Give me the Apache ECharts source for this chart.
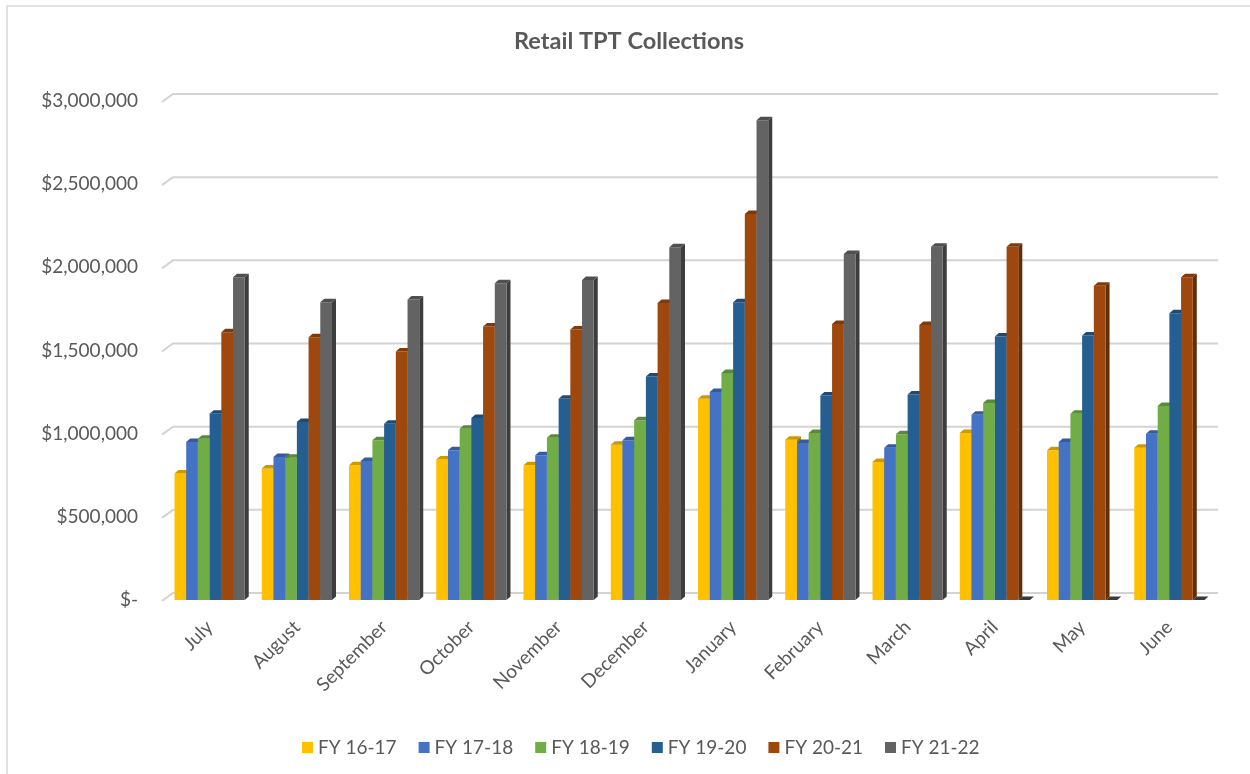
<!DOCTYPE html>
<html>
<head>
<meta charset="utf-8">
<title>Retail TPT Collections</title>
<script src="https://cdn.jsdelivr.net/npm/echarts@6/dist/echarts.min.js"></script>
<style>
  html, body { margin: 0; padding: 0; background: #ffffff; }
  #chart { width: 1250px; height: 774px; }
</style>
</head>
<body>
<div id="chart"></div>
<script>
// Months of the fiscal year (July through June)
const months = ['July', 'August', 'September', 'October', 'November', 'December',
                'January', 'February', 'March', 'April', 'May', 'June'];

// Monthly retail TPT collections per fiscal year
const fy1617 = [760000, 790000, 810000, 845000, 810000, 934000, 1210000, 964000, 830000, 1004000, 900000, 916000];
const fy1718 = [950000, 860000, 836000, 900000, 870000, 960000, 1250000, 944000, 916000, 1114000, 950000, 1000000];
const fy1819 = [970000, 855000, 960000, 1030000, 976000, 1080000, 1364000, 1004000, 996000, 1184000, 1120000, 1166000];
const fy1920 = [1120000, 1070000, 1060000, 1094000, 1210000, 1344000, 1790000, 1230000, 1236000, 1584000, 1590000, 1724000];
const fy2021 = [1610000, 1580000, 1494000, 1644000, 1626000, 1786000, 2320000, 1660000, 1654000, 2124000, 1890000, 1940000];
const fy2122 = [1940000, 1790000, 1806000, 1904000, 1924000, 2120000, 2884000, 2080000, 2124000, 0, 0, 0];

const seriesNames = ['FY 16-17', 'FY 17-18', 'FY 18-19', 'FY 19-20', 'FY 20-21', 'FY 21-22'];
const seriesValues = [fy1617, fy1718, fy1819, fy1920, fy2021, fy2122];
const seriesColors = ['#FFC000', '#4472C4', '#70AD47', '#255E91', '#9E480E', '#636363'];

// Value axis ticks
const yTicks = [0, 500000, 1000000, 1500000, 2000000, 2500000, 3000000];

const FONT = 'Lato, "Open Sans", sans-serif';
const TEXT = '#595959';
const DEPTH_X = 4, DEPTH_Y = 3.5;

function shade(hex, f) {
  const n = parseInt(hex.slice(1), 16);
  const r = Math.round(((n >> 16) & 255) * f);
  const g = Math.round(((n >> 8) & 255) * f);
  const b = Math.round((n & 255) * f);
  return 'rgb(' + r + ',' + g + ',' + b + ')';
}

function moneyLabel(v) {
  if (v === 0) return '$-';
  return '$' + v.toLocaleString('en-US');
}

// Column with a top and right face to give a 3-D look
function makeColumnRenderer(idx, color) {
  const topColor = shade(color, 0.8);
  const sideColor = shade(color, 0.62);
  return function (params, api) {
    const cat = api.value(0);
    const val = api.value(1);
    const base = api.coord([cat, 0]);
    const top = api.coord([cat, val]);
    const band = api.size([1, 0])[0];
    const barW = band * 0.805 / 6;
    const x = base[0] - barW * 3 + idx * barW;
    const ty = top[1], by = base[1];
    return {
      type: 'group',
      children: [
        {
          type: 'polygon',
          shape: { points: [[x + barW, ty], [x + barW + DEPTH_X, ty - DEPTH_Y],
                            [x + barW + DEPTH_X, by - DEPTH_Y], [x + barW, by]] },
          style: { fill: sideColor }
        },
        {
          type: 'rect',
          shape: { x: x, y: ty, width: barW, height: by - ty },
          style: { fill: color }
        },
        {
          type: 'polygon',
          shape: { points: [[x, ty], [x + DEPTH_X, ty - DEPTH_Y],
                            [x + barW + DEPTH_X, ty - DEPTH_Y], [x + barW, ty]] },
          style: { fill: idx === 5 && val === 0 ? shade(color, 0.6) : topColor }
        }
      ]
    };
  };
}

// Back-wall gridlines with a short slanted floor edge on the left
function renderGridline(params, api) {
  const y = api.coord([0, api.value(1)])[1];
  const cs = params.coordSys;
  const x0 = cs.x, x1 = cs.x + cs.width;
  return {
    type: 'polyline',
    shape: { points: [[x0 - 4, y + 1], [x0 + 7, y - 7], [x1 + 5, y - 7]] },
    style: { stroke: '#d3d3d3', lineWidth: 2, fill: null }
  };
}

const chart = echarts.init(document.getElementById('chart'), null, { renderer: 'canvas' });

const series = [{
  name: 'grid',
  type: 'custom',
  renderItem: renderGridline,
  data: yTicks.map(v => [0, v]),
  silent: true,
  z: 1
}];

seriesNames.forEach((name, i) => {
  series.push({
    name: name,
    type: 'custom',
    renderItem: makeColumnRenderer(i, seriesColors[i]),
    itemStyle: { color: seriesColors[i] },
    data: seriesValues[i].map((v, k) => [k, v]),
    encode: { x: 0, y: 1 },
    silent: true,
    z: 2
  });
});

chart.setOption({
  animation: false,
  backgroundColor: '#ffffff',
  textStyle: { fontFamily: FONT },
  title: {
    text: 'Retail TPT Collections',
    left: 514,
    top: 29,
    padding: 0,
    textStyle: { fontFamily: FONT, fontSize: 23.5, fontWeight: 'bold', color: TEXT }
  },
  legend: {
    data: seriesNames,
    left: 297,
    top: 733,
    icon: 'rect',
    itemWidth: 11,
    itemHeight: 11,
    itemGap: 22,
    selectedMode: false,
    textStyle: { fontFamily: FONT, fontSize: 19, color: TEXT }
  },
  grid: { left: 166, right: 37, top: 101, bottom: 174, containLabel: false },
  xAxis: {
    type: 'category',
    data: months,
    axisLine: { show: false },
    axisTick: { show: false },
    splitLine: { show: false },
    axisLabel: {
      rotate: 45,
      margin: 24,
      interval: 0,
      fontFamily: FONT,
      fontSize: 19,
      color: TEXT
    }
  },
  yAxis: {
    type: 'value',
    min: 0,
    max: 3000000,
    interval: 500000,
    axisLine: { show: false },
    axisTick: { show: false },
    splitLine: { show: false },
    axisLabel: {
      margin: 28,
      fontFamily: FONT,
      fontSize: 19,
      color: TEXT,
      formatter: moneyLabel
    }
  },
  graphic: [{
    type: 'rect',
    shape: { x: 7, y: 6, width: 1260, height: 790 },
    style: { fill: null, stroke: '#d9d9d9', lineWidth: 1.5 },
    silent: true,
    z: -1
  }],
  series: series
});
</script>
</body>
</html>
